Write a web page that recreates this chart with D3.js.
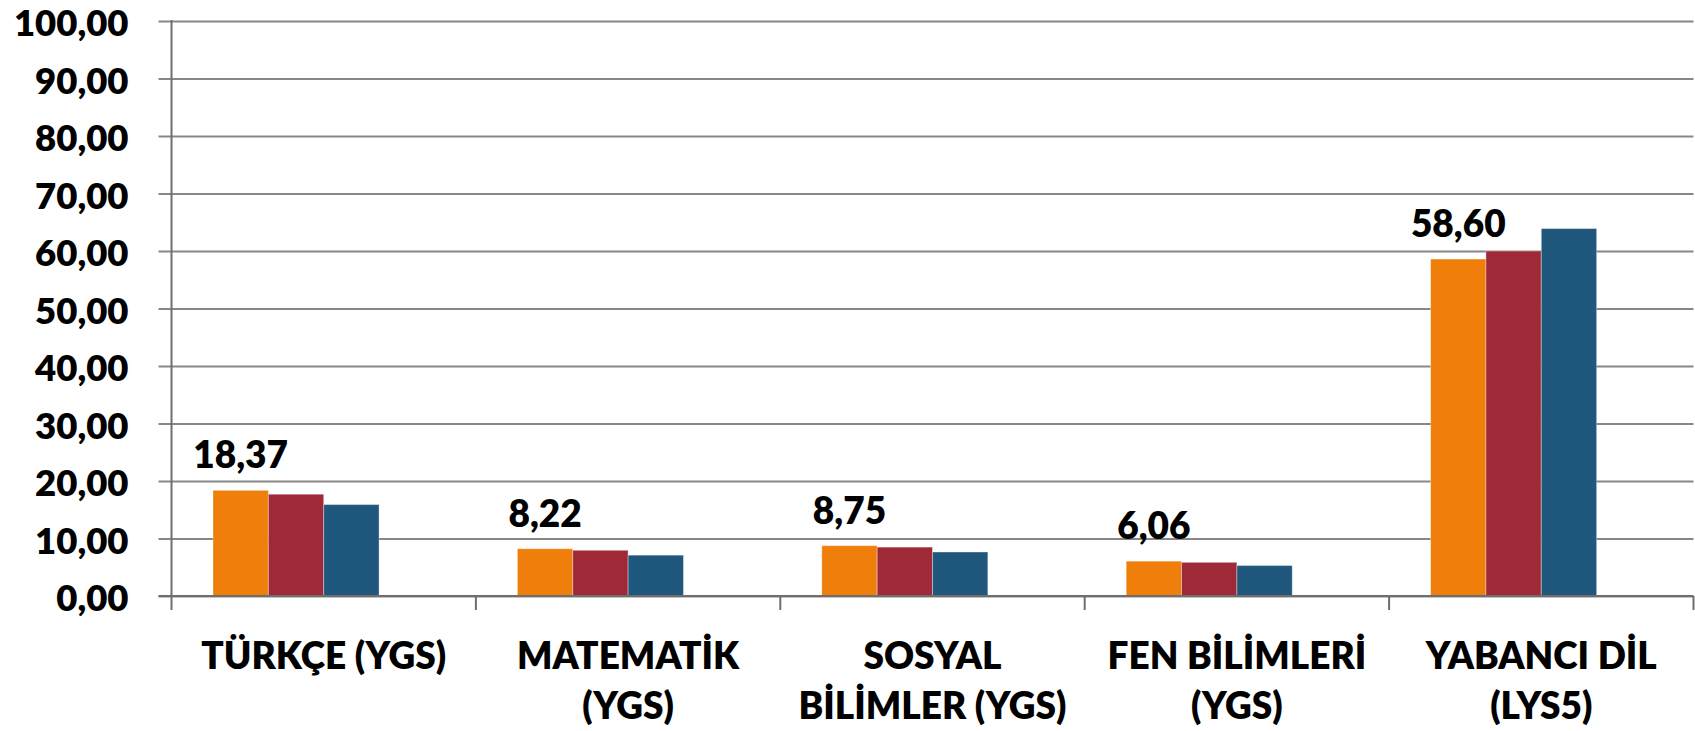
<!DOCTYPE html>
<html>
<head>
<meta charset="utf-8">
<script src="https://cdn.jsdelivr.net/npm/d3@7"></script>
<style>
  html, body { margin: 0; padding: 0; background: #ffffff; }
  svg { display: block; }
  text { font-family: Lato, "Open Sans", "Liberation Sans", sans-serif; font-weight: 800; fill: #000; }
</style>
</head>
<body>
<svg id="chart" width="1695" height="731"></svg>
<script>
// ---- data ----
const categories = ["TÜRKÇE (YGS)", "MATEMATİK\n(YGS)", "SOSYAL\nBİLİMLER (YGS)", "FEN BİLİMLERİ\n(YGS)", "YABANCI DİL\n(LYS5)"];
const seriesNames = ["Seri 1", "Seri 2", "Seri 3", "Seri 4"];
const series1 = [18.37, 8.22, 8.75, 6.06, 58.60];
const series2 = [17.70, 7.95, 8.50, 5.85, 60.00];
const series3 = [15.90, 7.10, 7.65, 5.30, 63.90];
const series4 = [];            // empty slot in the original chart
const labeledSeries = [series1];
const yTicks = [0, 10, 20, 30, 40, 50, 60, 70, 80, 90, 100];
const colors = ["#EF7E0B", "#9F2937", "#1F587C", "#888888"];

// ---- layout ----
const svg = d3.select("#chart");
const plotLeft = 171.5, plotRight = 1693.5, plotTop = 21, plotBottom = 596;
const tickOut = 13;

const loc = d3.formatLocale({decimal: ",", thousands: ".", grouping: [3], currency: ["", ""]});
const fmt = loc.format(".2f");

const x = d3.scaleBand().domain(categories).range([plotLeft, plotRight]).paddingInner(0).paddingOuter(0);
const x1 = d3.scaleBand().domain(seriesNames).range([0, x.bandwidth()]).paddingInner(0).paddingOuter(0.75);
const y = d3.scaleLinear().domain([0, 100]).range([plotBottom, plotTop]);

// gridlines + y labels
const yAxis = d3.axisLeft(y).tickValues(yTicks).tickFormat(fmt)
  .tickSize(plotRight - (plotLeft - tickOut)).tickPadding(30);
const gy = svg.append("g").attr("transform", `translate(${plotRight},0)`).call(yAxis);
gy.select(".domain").remove();
gy.selectAll(".tick line").attr("stroke", "#878787").attr("stroke-width", 2);
gy.selectAll(".tick text").style("font-size", "36.5px").attr("dy", "0.4em");

// y axis line
svg.append("line").attr("x1", plotLeft).attr("x2", plotLeft)
  .attr("y1", plotTop - 1).attr("y2", plotBottom).attr("stroke", "#6e6e6e").attr("stroke-width", 2);

// bars
const allSeries = [series1, series2, series3, series4];
allSeries.forEach((vals, si) => {
  svg.append("g").selectAll("rect").data(vals).join("rect")
    .attr("x", (d, i) => x(categories[i]) + x1(seriesNames[si]))
    .attr("width", x1.bandwidth())
    .attr("y", d => y(d))
    .attr("height", d => y(0) - y(d))
    .attr("fill", colors[si])
    .attr("stroke", "rgba(255,255,255,0.35)")
    .attr("stroke-width", 1);
});

// data labels
labeledSeries.forEach((vals) => {
  svg.append("g").selectAll("text").data(vals).join("text")
    .attr("x", (d, i) => x(categories[i]) + x1(seriesNames[0]) + x1.bandwidth() / 2)
    .attr("y", d => y(d) - 22)
    .attr("text-anchor", "middle")
    .style("font-size", "37px")
    .text(d => fmt(d));
});

// x axis line
svg.append("line").attr("x1", plotLeft - tickOut).attr("x2", plotRight)
  .attr("y1", plotBottom).attr("y2", plotBottom).attr("stroke", "#6e6e6e").attr("stroke-width", 2);

// category boundary ticks
const bounds = categories.map(c => x(c)).concat([plotRight]);
svg.append("g").selectAll("line").data(bounds).join("line")
  .attr("x1", d => d).attr("x2", d => d)
  .attr("y1", plotBottom).attr("y2", plotBottom + 14)
  .attr("stroke", "#6e6e6e").attr("stroke-width", 2);

// category labels
const xl = svg.append("g").selectAll("text").data(categories).join("text")
  .attr("text-anchor", "middle")
  .attr("x", d => x(d) + x.bandwidth() / 2)
  .attr("y", 669)
  .style("font-size", "37px");
xl.selectAll("tspan").data(d => d.split("\n").map(t => ({t, c: d}))).join("tspan")
  .attr("x", d => x(d.c) + x.bandwidth() / 2)
  .attr("dy", (d, i) => i === 0 ? 0 : 50)
  .text(d => d.t);
</script>
</body>
</html>
